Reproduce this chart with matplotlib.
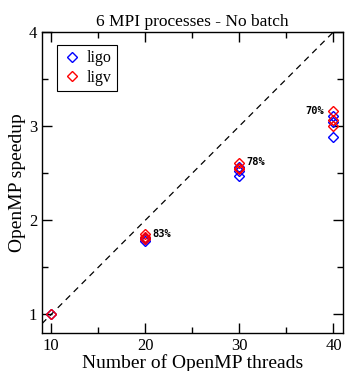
import matplotlib.pyplot as plt
from matplotlib.ticker import MultipleLocator

plt.rcParams['font.family'] = ['Liberation Serif', 'DejaVu Serif']

threads = [10, 20, 30, 40]

# speedup per run (several runs for each thread count)
ligo_x = [10, 20, 20, 20, 30, 30, 30, 40, 40, 40]
ligo_y = [1.0, 1.78, 1.80, 1.81, 2.47, 2.52, 2.56, 2.88, 3.04, 3.11]
ligv_x = [10, 20, 20, 20, 30, 30, 30, 40, 40, 40]
ligv_y = [1.0, 1.80, 1.82, 1.85, 2.54, 2.55, 2.61, 3.00, 3.06, 3.16]

eff_labels = ['83%', '78%', '70%']
eff_x = [20.7, 30.7, 37.0]
eff_y = [1.85, 2.62, 3.16]

fig = plt.figure(figsize=(3.46, 3.71), dpi=100)
ax = fig.add_axes([0.121, 0.102, 0.870, 0.812])

ax.plot([9, 41], [0.9, 4.1], '--', color='black', lw=0.9, dashes=(5, 4))
ax.plot(ligo_x, ligo_y, 'D', mfc='none', mec='blue', ms=5.5, mew=1.0,
        label='ligo', linestyle='none')
ax.plot(ligv_x, ligv_y, 'D', mfc='none', mec='red', ms=5.5, mew=1.0,
        label='ligv', linestyle='none')

for lab, x, y in zip(eff_labels, eff_x, eff_y):
    ax.text(x, y, lab, fontsize=7.5, fontweight='bold',
            family='DejaVu Sans Mono', va='center', ha='left')

ax.set_xlim(9, 41)
ax.set_ylim(0.8, 4)
ax.set_xticks(threads)
ax.set_yticks([1, 2, 3, 4])
ax.xaxis.set_minor_locator(MultipleLocator(5))
ax.yaxis.set_minor_locator(MultipleLocator(0.5))
ax.tick_params(which='both', direction='in', top=True, right=True,
               labelsize=12, width=1.0)
ax.tick_params(which='major', length=7)
ax.tick_params(which='minor', length=4)
for s in ax.spines.values():
    s.set_linewidth(1.0)

ax.set_xlabel('Number of OpenMP threads', fontsize=14, labelpad=0)
ax.set_ylabel('OpenMP speedup', fontsize=14, labelpad=2)
ax.set_title('6 MPI processes - No batch', fontsize=12.5, pad=4)

leg = ax.legend(loc='upper left', fontsize=11.5, fancybox=False,
                edgecolor='black', framealpha=1, handletextpad=0.3,
                borderpad=0.35, handlelength=1.2, labelspacing=0.2,
                borderaxespad=0, bbox_to_anchor=(0.05, 0.957))
leg.get_frame().set_linewidth(0.8)

plt.savefig('out.png', dpi=100)
